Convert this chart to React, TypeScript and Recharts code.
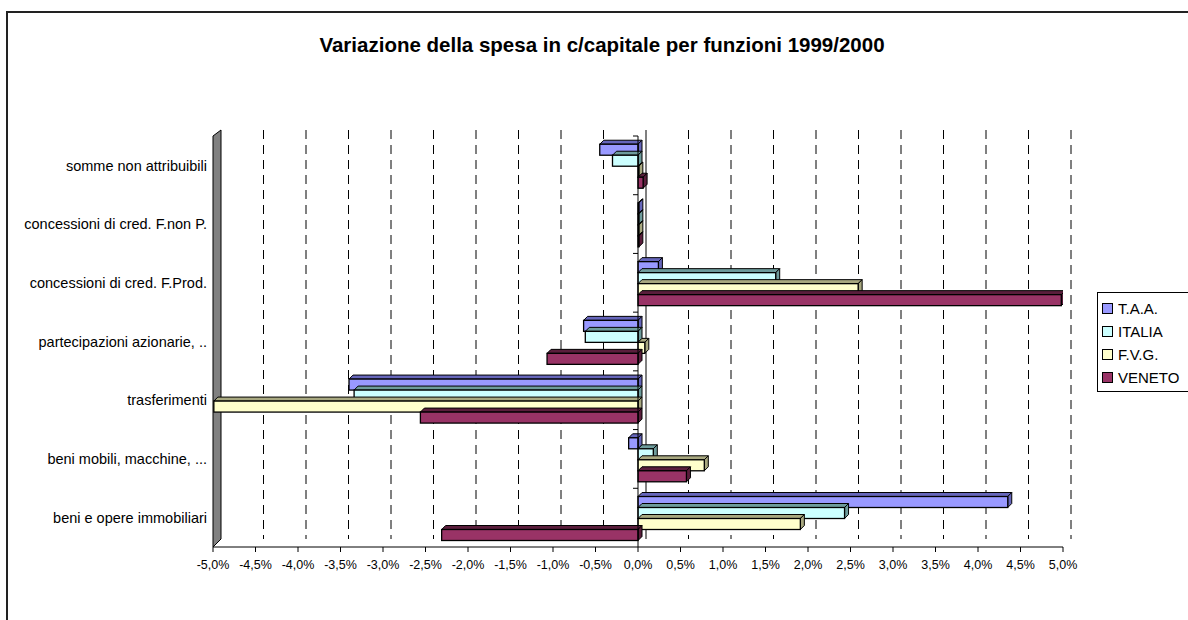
import React from "react";
import {BarChart, Bar, XAxis, YAxis, ReferenceArea, ReferenceLine} from "recharts";

const categories = [
    "somme non attribuibili",
    "concessioni di cred. F.non P.",
    "concessioni di cred. F.Prod.",
    "partecipazioni azionarie, ..",
    "trasferimenti",
    "beni mobili, macchine, ...",
    "beni e opere immobiliari"
];
const taa = [-0.45, 0.01, 0.24, -0.64, -3.40, -0.11, 4.35];
const italia = [-0.30, 0.01, 1.62, -0.62, -3.34, 0.18, 2.43];
const fvg = [0.01, 0.01, 2.59, 0.08, -4.99, 0.78, 1.91];
const veneto = [0.06, 0.01, 4.98, -1.07, -2.56, 0.57, -2.31];
const xTicks = [-5, -4.5, -4, -3.5, -3, -2.5, -2, -1.5, -1, -0.5, 0, 0.5, 1, 1.5, 2, 2.5, 3, 3.5, 4, 4.5, 5];

const series = [
    {key: "taa", name: "T.A.A.", fill: "#9999FF", side: "#6666BB"},
    {key: "italia", name: "ITALIA", fill: "#CCFFFF", side: "#6E9C9C"},
    {key: "fvg", name: "F.V.G.", fill: "#FFFFCC", side: "#A8A880"},
    {key: "veneto", name: "VENETO", fill: "#993366", side: "#5A1E3C"}
];

const data = categories.map((c, i) => ({
    name: c,
    taa: taa[i],
    italia: italia[i],
    fvg: fvg[i],
    veneto: veneto[i]
}));

const FONT = "'Liberation Sans', Arial, sans-serif";
const D = 4; // bar depth
const WALL = 8; // wall depth

const fmt = (v: number) => v.toFixed(1).replace(".", ",") + "%";

function Bar3D(props: any) {
    const {x, y, width, height, fill, side} = props;
    if (width == null || height == null) return null;
    const x0 = Math.min(x, x + width);
    const x1 = Math.max(x, x + width);
    const y0 = Math.min(y, y + height);
    const y1 = Math.max(y, y + height);
    return (
        <g>
            <polygon points={`${x0},${y0} ${x0 + D},${y0 - D} ${x1 + D},${y0 - D} ${x1},${y0}`}
                     fill={side} stroke="#000" strokeWidth={1}/>
            <polygon points={`${x1},${y0} ${x1 + D},${y0 - D} ${x1 + D},${y1 - D} ${x1},${y1}`}
                     fill={side} stroke="#000" strokeWidth={1}/>
            <rect x={x0} y={y0} width={x1 - x0} height={y1 - y0} fill={fill} stroke="#000" strokeWidth={1.3}/>
        </g>
    );
}

function Backdrop(props: any) {
    const {x, y, width, height} = props;
    const min = xTicks[0];
    const max = xTicks[xTicks.length - 1];
    const band = height / categories.length;
    return (
        <g>
            {xTicks.slice(1).map(v => {
                const gx = x + (v - min) / (max - min) * width + WALL;
                return <line key={v} x1={gx} y1={y - WALL + 2} x2={gx} y2={y + height - WALL}
                             stroke="#000" strokeWidth={1}
                             strokeDasharray={v === 0 ? undefined : "9 6"}/>;
            })}
            <polygon points={`${x},${y + height} ${x + WALL},${y + height - WALL} ${x + WALL},${y - WALL + 2} ${x},${y}`}
                     fill="#808080" stroke="#000" strokeWidth={1}/>
            {categories.map((c, i) => {
                const zx = x + (0 - min) / (max - min) * width;
                const ty = y + i * band;
                return <line key={c} x1={zx - 5} y1={ty} x2={zx} y2={ty} stroke="#000" strokeWidth={1}/>;
            })}
        </g>
    );
}

export default function App() {
    return (
        <div style={{position: "absolute", left: 0, top: 0, width: 1188, height: 620, overflow: "hidden", background: "#fff"}}>
            <div style={{position: "absolute", left: 6, top: 11, width: 1400, height: 800, borderLeft: "2px solid #222", borderTop: "2px solid #222"}}/>
            <div style={{position: "absolute", left: 202, top: 34, width: 800, textAlign: "center", fontFamily: FONT, fontWeight: "bold", fontSize: 20.5, lineHeight: "22px"}}>
                Variazione della spesa in c/capitale per funzioni 1999/2000
            </div>
            <div style={{position: "absolute", left: 0, top: 0}}>
                <BarChart width={1188} height={620} data={data} layout="vertical"
                          margin={{top: 136, right: 125, bottom: 43, left: 8}}
                          barCategoryGap="14%" barGap={0}>
                    <ReferenceArea x1={-5} x2={5} shape={<Backdrop/>} fill="none" stroke="none"/>
                    <XAxis type="number" domain={[-5, 5]} ticks={xTicks} tickFormatter={fmt}
                           interval={0} height={30} allowDataOverflow
                           axisLine={{stroke: "#000"}} tickLine={{stroke: "#000"}} tickSize={5} tickMargin={8}
                           tick={{fill: "#000", fontSize: 12.5, fontFamily: FONT}}/>
                    <YAxis type="category" dataKey="name" width={205} axisLine={false} tickLine={false}
                           tickSize={6} tickMargin={0}
                           tick={{fill: "#000", fontSize: 14.5, fontFamily: FONT}}/>
                    <ReferenceLine x={0} stroke="#000" strokeWidth={1}/>
                    {series.map(s => (
                        <Bar key={s.key} dataKey={s.key} name={s.name} fill={s.fill}
                             isAnimationActive={false}
                             shape={(p: any) => <Bar3D {...p} fill={s.fill} side={s.side}/>}/>
                    ))}
                </BarChart>
            </div>
            <div style={{position: "absolute", left: 1097, top: 292, width: 140, height: 98, border: "1px solid #000", background: "#fff", fontFamily: FONT, fontSize: 15}}>
                {series.map((s, i) => (
                    <div key={s.key} style={{position: "absolute", left: 4, top: 6 + i * 23, height: 18, display: "flex", alignItems: "center"}}>
                        <span style={{display: "inline-block", width: 9, height: 9, background: s.fill, border: "1px solid #000", marginRight: 5}}/>
                        <span>{s.name}</span>
                    </div>
                ))}
            </div>
        </div>
    );
}
